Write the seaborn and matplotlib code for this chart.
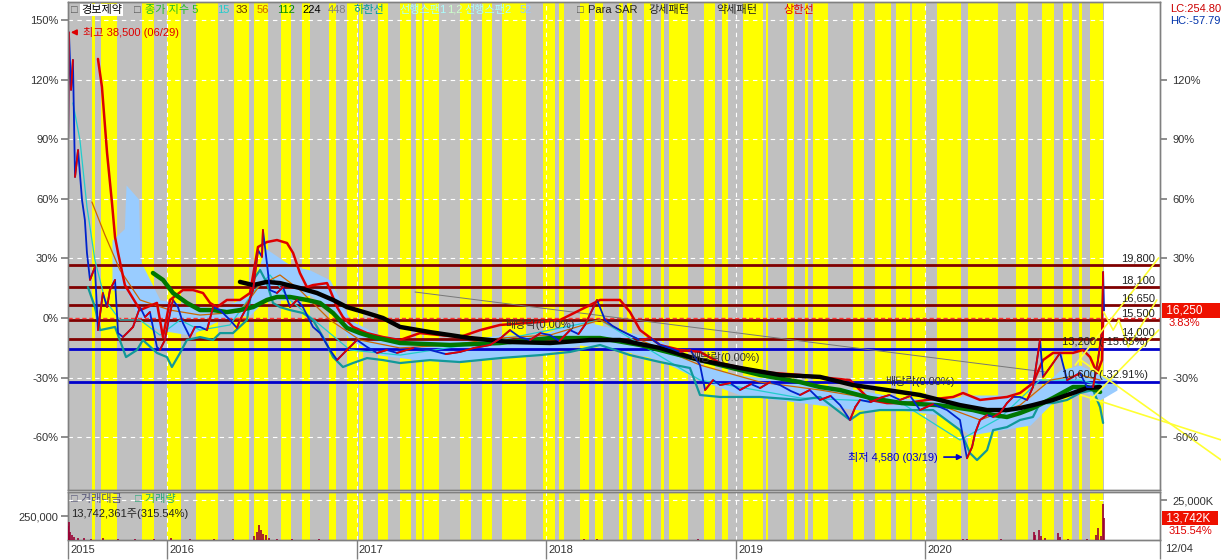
import matplotlib
matplotlib.use('Agg')
import matplotlib.pyplot as plt
import matplotlib.transforms as mtransforms
import seaborn as sns
import pandas as pd

# ---- data (x in decimal years, y in % vs. base price) ----
yellow_bands = [(2015.603, 2015.620), (2015.652, 2015.736), (2015.867, 2015.931), (2015.998, 2016.072),
                (2016.153, 2016.271), (2016.353, 2016.432), (2016.459, 2016.533), (2016.600, 2016.652),
                (2016.710, 2016.754), (2016.854, 2016.891), (2016.948, 2017.006), (2017.011, 2017.035),
                (2017.113, 2017.167), (2017.229, 2017.285), (2017.313, 2017.345), (2017.355, 2017.435),
                (2017.545, 2017.602), (2017.663, 2017.714), (2017.767, 2017.893), (2017.982, 2018.046),
                (2018.068, 2018.094), (2018.178, 2018.226), (2018.257, 2018.298), (2018.382, 2018.403),
                (2018.428, 2018.453), (2018.516, 2018.553), (2018.604, 2018.622), (2018.649, 2018.748),
                (2018.833, 2018.889), (2018.927, 2018.959), (2019.036, 2019.143), (2019.158, 2019.168),
                (2019.270, 2019.305), (2019.365, 2019.379), (2019.406, 2019.487), (2019.617, 2019.676),
                (2019.734, 2019.819), (2019.845, 2019.919), (2019.929, 2020.003), (2020.060, 2020.187),
                (2020.225, 2020.383), (2020.478, 2020.541), (2020.615, 2020.677), (2020.724, 2020.773),
                (2020.810, 2020.826), (2020.868, 2020.937)]
data_span = (2015.478, 2020.94)

close = [(2015.478, 82.2), (2015.483, 144.0), (2015.494, 115.0), (2015.504, 130.1), (2015.515, 71.1),
         (2015.531, 84.7), (2015.552, 59.5), (2015.567, 49.4), (2015.578, 32.8), (2015.594, 19.2),
         (2015.620, 25.7), (2015.636, -6.1), (2015.662, 12.6), (2015.684, 5.5), (2015.699, 14.1),
         (2015.726, 19.2), (2015.742, -7.6), (2015.768, -9.6), (2015.805, -6.1), (2015.821, -4.5),
         (2015.858, 5.5), (2015.884, 0.5), (2015.910, 3.0), (2015.947, -14.6), (2015.963, -16.1),
         (2015.989, -11.1), (2016.016, 2.5), (2016.032, 9.1), (2016.058, 5.5), (2016.084, -2.5),
         (2016.121, -9.6), (2016.148, -4.5), (2016.174, -4.5), (2016.211, -6.1), (2016.243, 5.5),
         (2016.280, 4.0), (2016.332, -1.0), (2016.369, -5.0), (2016.385, -1.0), (2016.422, 5.5),
         (2016.454, 14.1), (2016.480, 34.3), (2016.501, 30.8), (2016.506, 44.4), (2016.527, 27.7),
         (2016.543, 14.1), (2016.580, 12.6), (2016.612, 15.6), (2016.649, 5.5), (2016.686, 9.1),
         (2016.717, 5.5), (2016.770, -4.5), (2016.807, -7.6), (2016.860, -16.1), (2016.897, -21.2),
         (2016.949, -16.1), (2017.002, -11.1), (2017.055, -14.6), (2017.108, -17.6), (2017.160, -16.1),
         (2017.213, -17.6), (2017.300, -15.1), (2017.387, -16.1), (2017.470, -18.2), (2017.545, -17.1),
         (2017.620, -15.1), (2017.704, -13.6), (2017.760, -10.1), (2017.809, -6.1), (2017.860, -9.6),
         (2017.915, -11.1), (2017.970, -7.6), (2018.020, -8.6), (2018.070, -11.6), (2018.126, -6.1),
         (2018.170, -8.1), (2018.204, -3.5), (2018.268, 9.1), (2018.310, -1.0), (2018.350, -4.0),
         (2018.389, -6.1), (2018.440, -8.6), (2018.495, -11.1), (2018.550, -10.1), (2018.600, -13.6),
         (2018.650, -15.1), (2018.706, -17.1), (2018.760, -16.1), (2018.811, -23.7), (2018.838, -36.3),
         (2018.880, -31.3), (2018.917, -33.8), (2018.970, -32.8), (2019.022, -36.3), (2019.080, -33.3),
         (2019.128, -35.3), (2019.180, -32.3), (2019.233, -33.8), (2019.290, -36.8), (2019.339, -38.8),
         (2019.390, -36.3), (2019.444, -41.3), (2019.500, -39.3), (2019.550, -43.9), (2019.602, -51.4),
         (2019.630, -44.9), (2019.655, -41.3), (2019.710, -42.4), (2019.760, -40.3), (2019.810, -38.8),
         (2019.866, -41.3), (2019.920, -39.3), (2019.971, -46.4), (2020.040, -43.4), (2020.114, -46.4),
         (2020.182, -51.4), (2020.198, -60.0), (2020.219, -70.7), (2020.246, -65.0), (2020.262, -58.0),
         (2020.288, -51.4), (2020.325, -48.9), (2020.357, -49.9), (2020.393, -47.9), (2020.430, -42.9),
         (2020.462, -39.8), (2020.499, -39.8), (2020.536, -41.3), (2020.567, -34.8), (2020.594, -17.6),
         (2020.604, -11.1), (2020.620, -29.7), (2020.647, -26.2), (2020.673, -22.7), (2020.710, -17.6),
         (2020.747, -31.3), (2020.778, -29.7), (2020.815, -27.7), (2020.852, -34.8), (2020.884, -34.8),
         (2020.910, -21.2), (2020.931, -6.1), (2020.937, 23.2), (2020.942, 3.83)]

upper_band = [(2015.636, 130.6), (2015.657, 116.5), (2015.684, 83.2), (2015.710, 58.0), (2015.726, 40.8),
              (2015.742, 32.8), (2015.778, 16.6), (2015.858, 4.0), (2015.947, 7.6), (2015.979, -9.6),
              (2016.016, 9.1), (2016.084, 14.1), (2016.137, 14.1), (2016.190, 12.6), (2016.227, 7.6),
              (2016.264, 5.5), (2016.316, 9.1), (2016.385, 9.1), (2016.438, 12.6), (2016.480, 35.8),
              (2016.527, 38.3), (2016.580, 39.3), (2016.633, 37.8), (2016.665, 32.8), (2016.701, 22.7),
              (2016.738, 15.6), (2016.770, 16.6), (2016.844, 17.6), (2016.860, 14.1), (2016.897, 5.5),
              (2016.928, 0.5), (2016.981, -4.5), (2017.055, -7.6), (2017.139, -9.6), (2017.229, -11.1),
              (2017.334, -7.6), (2017.545, -9.6), (2017.651, -6.1), (2017.756, -3.5), (2017.967, -2.0),
              (2018.073, -1.0), (2018.178, 4.0), (2018.284, 9.1), (2018.389, 9.1), (2018.442, 3.0),
              (2018.495, -6.1), (2018.600, -13.6), (2018.706, -16.1), (2018.811, -17.1), (2018.917, -22.7),
              (2019.128, -27.2), (2019.339, -28.7), (2019.497, -30.3), (2019.602, -31.3), (2019.708, -41.3),
              (2019.797, -42.9), (2019.903, -42.9), (2020.008, -41.3), (2020.146, -39.8), (2020.198, -37.8),
              (2020.288, -41.3), (2020.430, -39.8), (2020.499, -37.8), (2020.567, -32.8), (2020.620, -21.2),
              (2020.673, -17.6), (2020.778, -17.6), (2020.831, -16.1), (2020.868, -19.7), (2020.905, -27.7),
              (2020.931, -21.2), (2020.937, -1.0)]

lower_band = [(2015.583, 15.6), (2015.620, 5.5), (2015.647, -6.1), (2015.726, -4.5), (2015.784, -19.7),
              (2015.842, -16.1), (2015.873, -11.1), (2015.947, -17.6), (2016.000, -19.7), (2016.026, -24.7),
              (2016.069, -17.6), (2016.105, -11.1), (2016.174, -9.6), (2016.243, -11.1), (2016.280, -7.6),
              (2016.348, -7.6), (2016.422, -1.0), (2016.454, 19.2), (2016.491, 24.2), (2016.527, 17.6),
              (2016.559, 7.6), (2016.596, 5.5), (2016.649, 4.0), (2016.717, 2.5), (2016.770, -1.0),
              (2016.823, -9.6), (2016.876, -19.7), (2016.928, -24.7), (2016.981, -22.7), (2017.055, -20.2),
              (2017.139, -21.2), (2017.229, -22.7), (2017.387, -21.2), (2017.545, -22.2), (2017.756, -20.2),
              (2017.967, -18.7), (2018.126, -17.1), (2018.284, -13.6), (2018.442, -18.7), (2018.600, -22.2),
              (2018.758, -25.2), (2018.811, -38.8), (2018.917, -39.8), (2019.128, -39.8), (2019.339, -41.3),
              (2019.444, -39.8), (2019.602, -51.4), (2019.655, -47.9), (2019.760, -46.4), (2019.903, -46.4),
              (2020.040, -46.4), (2020.182, -56.5), (2020.235, -68.1), (2020.272, -71.6), (2020.325, -66.6),
              (2020.357, -56.5), (2020.430, -55.0), (2020.499, -51.4), (2020.567, -49.9), (2020.604, -42.9),
              (2020.673, -42.9), (2020.747, -41.3), (2020.815, -37.8), (2020.884, -36.3), (2020.921, -44.9),
              (2020.937, -52.9)]

ma112 = [(2015.926, 22.7), (2015.979, 19.2), (2016.032, 12.6), (2016.105, 7.6), (2016.174, 4.0),
         (2016.243, 4.0), (2016.316, 3.0), (2016.385, 4.0), (2016.454, 5.5), (2016.527, 9.1),
         (2016.580, 10.6), (2016.649, 10.6), (2016.738, 9.1), (2016.807, 7.6), (2016.876, 2.5),
         (2016.949, -5.0), (2017.018, -7.6), (2017.086, -9.6), (2017.160, -11.1), (2017.229, -12.6),
         (2017.493, -13.6), (2017.756, -12.6), (2018.020, -10.1), (2018.284, -10.1), (2018.495, -13.6),
         (2018.706, -18.7), (2018.917, -23.7), (2019.128, -28.7), (2019.339, -32.3), (2019.444, -34.8),
         (2019.550, -36.3), (2019.708, -40.3), (2019.876, -42.9), (2020.061, -43.9), (2020.146, -44.9),
         (2020.251, -46.4), (2020.357, -48.9), (2020.430, -49.9), (2020.499, -47.9), (2020.567, -45.4),
         (2020.673, -40.3), (2020.778, -34.8), (2020.852, -34.8), (2020.921, -37.3)]

ma224 = [(2016.385, 18.2), (2016.454, 16.6), (2016.527, 18.2), (2016.596, 17.6), (2016.701, 15.1),
         (2016.791, 12.6), (2016.876, 9.1), (2016.949, 5.5), (2017.055, 2.5), (2017.139, 0.0),
         (2017.229, -4.5), (2017.387, -7.1), (2017.598, -10.1), (2017.809, -12.1), (2018.020, -12.6),
         (2018.231, -11.1), (2018.389, -11.1), (2018.600, -15.1), (2018.811, -21.2), (2019.022, -25.2),
         (2019.233, -28.7), (2019.444, -29.7), (2019.618, -33.8), (2019.797, -36.3), (2019.971, -38.8),
         (2020.182, -43.9), (2020.325, -46.4), (2020.430, -46.4), (2020.499, -45.4), (2020.567, -43.9),
         (2020.673, -41.3), (2020.778, -37.8), (2020.852, -35.3), (2020.921, -34.8)]

ma56 = [(2015.604, 58.5), (2015.673, 41.8), (2015.752, 24.2), (2015.858, 9.1), (2016.016, 4.0),
        (2016.174, 1.5), (2016.385, 3.0), (2016.491, 16.6), (2016.596, 21.7), (2016.701, 14.1),
        (2016.860, -1.0), (2017.018, -11.1), (2017.229, -15.1), (2017.493, -13.6), (2017.756, -10.1),
        (2018.020, -8.6), (2018.284, -1.0), (2018.495, -11.1), (2018.811, -23.7), (2019.128, -32.3),
        (2019.444, -36.3), (2019.760, -41.3), (2020.077, -43.9), (2020.288, -51.4), (2020.499, -43.9),
        (2020.659, -31.3), (2020.815, -28.7), (2020.921, -31.3)]

ma15 = [(2015.504, 108.4), (2015.541, 89.7), (2015.578, 56.0), (2015.620, 29.2), (2015.673, 9.1),
        (2015.752, -1.0), (2015.858, -1.0), (2015.963, -8.6), (2016.069, -1.0), (2016.174, -6.1),
        (2016.332, -3.5), (2016.464, 14.1), (2016.543, 21.7), (2016.649, 9.1), (2016.807, -3.5),
        (2016.965, -16.1), (2017.229, -18.7), (2017.756, -11.1), (2018.284, -1.0), (2018.811, -31.3),
        (2019.339, -40.3), (2019.866, -42.4), (2020.182, -61.5), (2020.393, -50.4), (2020.604, -31.3),
        (2020.815, -31.3), (2020.921, -33.8)]

# leading spans (cloud): time, upper, lower
cloud = [(2015.710, 39.3, 14.1), (2015.775, 45.0, 14.1), (2015.784, 67.1, 14.1), (2015.850, 60.0, 0.0),
         (2015.858, 29.2, -1.0), (2015.963, 9.1, -6.1),
         (2016.121, 6.6, -8.6), (2016.280, 5.0, -1.0), (2016.438, 11.6, 1.5), (2016.517, 35.3, 9.1),
         (2016.649, 26.7, 9.1), (2016.754, 24.2, 11.6), (2016.860, 19.2, 4.0), (2016.965, -1.0, -11.1),
         (2017.123, -8.6, -18.7), (2017.334, -11.1, -21.2), (2017.545, -11.1, -22.2), (2017.756, -8.6, -20.2),
         (2017.967, -8.6, -18.7), (2018.178, -1.0, -13.6), (2018.389, -6.1, -16.1), (2018.600, -11.1, -21.2),
         (2018.811, -23.7, -31.3), (2019.022, -28.7, -38.8), (2019.233, -31.3, -41.3), (2019.444, -33.8, -43.9),
         (2019.655, -36.3, -46.4), (2019.866, -40.3, -46.4), (2020.077, -41.3, -48.9), (2020.235, -38.8, -59.0),
         (2020.393, -38.8, -56.5), (2020.552, -40.3, -54.0), (2020.710, -26.2, -38.8), (2020.815, -23.7, -36.3),
         (2020.921, -28.7, -41.3), (2021.010, -31.3, -36.3)]

trend_line = [(2017.308, 13.1), (2020.631, -27.2)]

sar_lines = [[(2020.79, -23.7), (2021.23, 30.3)],
             [(2020.82, -21.2), (2021.56, -71.6)],
             [(2020.82, -38.8), (2021.56, -61.5)],
             [(2020.87, -41.3), (2021.23, -6.1)],
             [(2020.94, 3.0), (2020.99, -6.1), (2021.02, -1.0), (2021.07, -14.6), (2021.22, 9.1)]]

red_levels = [19800, 18100, 16650, 15500, 14000]
red_levels_pct = [26.5, 15.65, 6.39, -0.96, -10.54]
blue_levels = ['13,200 (-15.65%)', '10,600 (-32.91%)']
blue_levels_pct = [-15.65, -32.27]

dividend_notes = [(2017.783, -3.5), (2018.758, -19.7), (2019.787, -31.8)]

volume = [(2015.479, 9000), (2015.484, 11400), (2015.49, 5000), (2015.50, 3000), (2015.51, 2000),
          (2015.53, 1500), (2015.56, 1200), (2015.60, 900), (2015.66, 1300), (2015.74, 800),
          (2015.83, 600), (2015.93, 700), (2016.02, 1100), (2016.12, 500), (2016.25, 600),
          (2016.35, 500), (2016.46, 2500), (2016.475, 5000), (2016.485, 9400), (2016.495, 6500),
          (2016.505, 4000), (2016.52, 3000), (2016.54, 1500), (2016.58, 800), (2016.66, 500),
          (2016.80, 400), (2017.0, 300), (2017.3, 300), (2017.6, 250), (2017.9, 300),
          (2018.2, 400), (2018.27, 900), (2018.5, 300), (2018.8, 350), (2019.1, 300),
          (2019.4, 250), (2019.7, 300), (2020.0, 300), (2020.2, 600), (2020.22, 900),
          (2020.4, 500), (2020.57, 5200), (2020.58, 3000), (2020.60, 6250), (2020.61, 2500),
          (2020.63, 1500), (2020.70, 4400), (2020.71, 2000), (2020.75, 800), (2020.85, 600),
          (2020.90, 3000), (2020.91, 7500), (2020.925, 2500), (2020.935, 22500), (2020.942, 13742)]

pct_ticks_left = [150, 120, 90, 60, 30, 0, -30, -60]
pct_ticks_right = [120, 90, 60, 30, -30, -60]
year_ticks = [2015.478, 2016, 2017, 2018, 2019, 2020]
year_labels = ['2015', '2016', '2017', '2018', '2019', '2020']

legend_items = [('□', '#555555'), ('경보제약', 'black'), ('□', '#555555'), ('종가 지수 5', '#22bb22'),
                ('15', '#22cccc'), ('33', '#663300'), ('56', '#cc6600'), ('112', '#008800'),
                ('224', '#000000'), ('448', '#808080'), ('하한선', '#009999'), ('선행스팬1', '#aaffff'),
                ('1,2', '#ccffcc'), ('선행스팬2', '#aaffff'), ('52', '#99ccff'), ('□', '#555555'),
                ('Para SAR', '#222222'), ('강세패턴', '#222222'), ('약세패턴', '#222222'), ('상한선', '#e00000')]
legend_x = [71, 81, 134, 145, 217, 236, 257, 277, 302, 328, 354, 399, 447, 464, 520, 577, 588, 648, 716, 783]

# ---- style ----
sns.set_theme(style='white')
plt.rcParams['font.family'] = ['Liberation Sans', 'Noto Sans CJK KR', 'DejaVu Sans']
plt.rcParams['axes.unicode_minus'] = False

W, H = 1221, 560
XMIN, XMAX = 2015.478, 2021.237
GRAY, YELLOW = '#c0c0c0', '#ffff00'
FS = 8


def split(pts):
    return [p[0] for p in pts], [p[1] for p in pts]


def paint_bands(a):
    a.axvspan(*data_span, color=GRAY, lw=0, zorder=0)
    for s, e in yellow_bands:
        a.axvspan(s, e, color=YELLOW, lw=0, zorder=0.5)
    for yr in range(2016, 2021):
        a.axvline(yr, color='white', ls=(0, (4, 4)), lw=0.8, zorder=1)


fig = plt.figure(figsize=(W / 100, H / 100), dpi=100)
ax = fig.add_axes([68 / W, 1 - 490 / H, (1160 - 68) / W, 488 / H])
ax_vol = fig.add_axes([68 / W, 1 - 540 / H, (1160 - 68) / W, 48 / H])

# ---- main panel ----
paint_bands(ax)
for v in pct_ticks_left:
    if v != 0:
        ax.axhline(v, color='white', ls=(0, (4, 4)), lw=0.8, zorder=1)

ct, chi, clo = [c[0] for c in cloud], [c[1] for c in cloud], [c[2] for c in cloud]
ax.fill_between(ct, chi, clo, color='#99ccff', lw=0, zorder=2)

for p in red_levels_pct:
    ax.axhline(p, color='#800000', lw=2, zorder=3)
ax.axhline(0, color='#ff3333', lw=1, ls=(0, (3, 2)), zorder=3.1)
for p in blue_levels_pct:
    ax.axhline(p, color='#0000cc', lw=2, zorder=3)

tx, ty = split(trend_line)
ax.plot(tx, ty, color='#777777', lw=0.7, zorder=4)

for pts, col, lw in [(ma15, '#22cccc', 0.9), (ma56, '#cc6600', 0.9), (lower_band, '#119999', 1.6),
                     (upper_band, '#dd0000', 1.8), (ma112, '#007700', 3.2), (ma224, '#000000', 3.2)]:
    xs, ys = split(pts)
    sns.lineplot(x=xs, y=ys, ax=ax, color=col, lw=lw, estimator=None, sort=False, legend=False, zorder=5)

cx, cy = split(close)
ax.plot(cx, cy, color='#0022cc', lw=1.3, zorder=6)
for i in range(len(cx) - 1):
    if cy[i + 1] > cy[i]:
        ax.plot(cx[i:i + 2], cy[i:i + 2], color='#dd0000', lw=1.3, zorder=6)

for pts in sar_lines:
    xs, ys = split(pts)
    ax.plot(xs, ys, color='#ffff33', lw=1.2, zorder=7, clip_on=False)

# level labels
for price, p in zip(red_levels, red_levels_pct):
    ax.text(2021.21, p + 0.8, f'{price:,}', ha='right', va='bottom', color='#222222', zorder=8, fontsize=FS)
for lab, p in zip(blue_levels, blue_levels_pct):
    ax.text(2020.72, p + 0.8, lab, ha='left', va='bottom', color='#222222', zorder=8, fontsize=FS)

for x, y in dividend_notes:
    ax.text(x, y, '배당락(0.00%)', ha='left', va='center', color='#333333', zorder=8, fontsize=FS)

ax.annotate('최고 38,500 (06/29)', xy=(XMIN, 144), xytext=(2015.557, 144), color='#dd0000', fontsize=FS,
            va='center', zorder=9, arrowprops=dict(arrowstyle='-|>', color='#dd0000', lw=1.2))
ax.annotate('최저 4,580 (03/19)', xy=(2020.212, -70.1), xytext=(2019.592, -70.1), color='#0000cc', fontsize=FS,
            va='center', zorder=9, arrowprops=dict(arrowstyle='-|>', color='#0000cc', lw=1.2))

ax.set_xlim(XMIN, XMAX)
ax.set_ylim(-86.7, 159.3)
ax.set_xticks([])
ax.set_yticks(pct_ticks_left)
ax.set_yticklabels([f'{v}%' for v in pct_ticks_left], color='#333333', fontsize=FS)
ax.tick_params(axis='y', left=True, length=5, color='#808080', pad=2)
ax_r = ax.twinx()
ax_r.set_ylim(ax.get_ylim())
ax_r.set_yticks(pct_ticks_right)
ax_r.set_yticklabels([f'{v}%' for v in pct_ticks_right], color='#333333', fontsize=FS)
ax_r.tick_params(axis='y', right=True, length=5, color='#808080', pad=4)
ax_r.grid(False)
for a in (ax, ax_r):
    for s in a.spines.values():
        s.set_color('#808080')
        s.set_linewidth(1)

bt = mtransforms.blended_transform_factory(ax.transAxes, ax.transData)
ax.text(1.003, 3.83, ' 16,250     ', transform=bt, color='white', va='center', ha='left', fontsize=8.5,
        bbox=dict(facecolor='#ee1100', edgecolor='none', pad=0.12, boxstyle='square'), zorder=10)
ax.text(1.008, -2.4, '3.83%', transform=bt, color='#dd0000', va='center', ha='left', fontsize=FS)
fig.text(1170 / W, 1 - 9 / H, 'LC:254.80', color='#cc0000', va='center', ha='left', fontsize=FS)
fig.text(1170 / W, 1 - 21 / H, 'HC:-57.79', color='#0033aa', va='center', ha='left', fontsize=FS)

# legend line at the top
for (lab, col), px in zip(legend_items, legend_x):
    kw = {}
    if lab == '경보제약':
        kw['bbox'] = dict(facecolor='white', edgecolor='none', pad=1)
    fig.text(px / W, 1 - 10 / H, lab, color=col, va='center', ha='left', fontsize=FS, zorder=10, **kw)

# ---- volume panel ----
paint_bands(ax_vol)
ax_vol.set_xlim(XMIN, XMAX)
ax_vol.set_ylim(0, 500000)
ax_vol.set_yticks([250000])
ax_vol.set_yticklabels(['250,000'], color='#333333', fontsize=FS)
ax_vol.tick_params(axis='y', left=True, length=5, color='#808080', pad=2)
ax_vk = ax_vol.twinx()
ax_vk.set_ylim(0, 30000)
ax_vk.axhline(25000, color='white', ls=(0, (4, 4)), lw=0.8, zorder=1)
vt, vk = split(volume)
vol_df = pd.DataFrame({'t': vt, 'k': vk})
ax_vk.vlines(vol_df['t'], 0, vol_df['k'], color='#990033', lw=1.2, zorder=3)
ax_vk.set_yticks([25000])
ax_vk.set_yticklabels(['25,000K'], color='#333333', fontsize=FS)
ax_vk.tick_params(axis='y', right=True, length=5, color='#808080', pad=4)
ax_vk.grid(False)

ax_vol.set_xticks(year_ticks + [XMAX])
ax_vol.set_xticklabels([''] * (len(year_ticks) + 1))
ax_vol.tick_params(axis='x', bottom=True, length=14, color='#808080', width=1)
xt = mtransforms.blended_transform_factory(ax_vol.transData, ax_vol.transAxes)
for t, lab in zip(year_ticks, year_labels):
    ax_vol.text(t + 0.012, -0.2, lab, transform=xt, ha='left', va='center', color='#333333', fontsize=FS)
fig.text(1165 / W, 1 - 549 / H, '12/04', color='#333333', va='center', ha='left', fontsize=FS)
for a in (ax_vol, ax_vk):
    for s in a.spines.values():
        s.set_color('#808080')
        s.set_linewidth(1)

vt2 = mtransforms.blended_transform_factory(ax_vol.transAxes, ax_vol.transAxes)
ax_vol.text(0.003, 0.86, '□ 거래대금', transform=vt2, color='#555577', va='center', ha='left', zorder=9,
            fontsize=FS)
ax_vol.text(0.061, 0.86, '□ 거래량', transform=vt2, color='#22aa77', va='center', ha='left', zorder=9,
            fontsize=FS)
ax_vol.text(0.003, 0.55, '13,742,361주(315.54%)', transform=vt2, color='#222222', va='center', ha='left',
            zorder=9, fontsize=FS)
kt = mtransforms.blended_transform_factory(ax_vk.transAxes, ax_vk.transData)
ax_vk.text(1.003, 13742, ' 13,742K  ', transform=kt, color='white', va='center', ha='left', fontsize=8.5,
           bbox=dict(facecolor='#ee1100', edgecolor='none', pad=0.12, boxstyle='square'), zorder=10)
ax_vk.text(1.008, 5400, '315.54%', transform=kt, color='#dd0000', va='center', ha='left', fontsize=FS)

fig.savefig('out.png', dpi=100)
